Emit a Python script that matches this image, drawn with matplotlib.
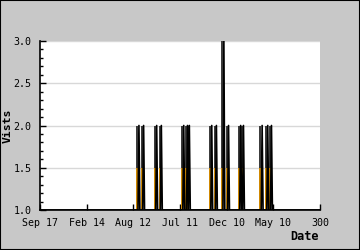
import numpy as np
from matplotlib import pyplot as plt

# data
# =======================
tick_pos = [0, 50, 100, 150, 200, 250, 300]
tick_labels = ['Sep 17', 'Feb 14', 'Aug 12', 'Jul 11', 'Dec 10', 'May 10', '300']
spike_days = [106, 111, 125, 130, 154, 158, 160, 184, 189, 197, 202, 215, 218, 238, 244, 248]
spike_visits = [2, 2, 2, 2, 2, 2, 2, 2, 2, 3, 2, 2, 2, 2, 2, 2]

days = np.arange(0, 301)
visits = np.ones(len(days))
for d, v in zip(spike_days, spike_visits):
    visits[d] = v

#%% plot

fig = plt.figure(figsize=(3.6, 2.5), dpi=100, facecolor='#c8c8c8')
ax = fig.add_axes([40/360, 40/250, 280/360, 169/250])
ax.set_facecolor('white')

# shaded column just left of each spike line: orange below 1.5, dark above
sd = np.array(spike_days) - 3.0
sv = np.array(spike_visits, dtype=float)
ax.bar(sd, np.minimum(sv, 1.5) - 1, bottom=1, width=2.3, align='edge',
       color='#d08800', lw=0)
ax.bar(sd, sv - 1.5, bottom=1.5, width=2.3, align='edge', color='#3c3c3c', lw=0)
ax.plot(days, visits, color='black', lw=1.2)

ax.set_xlim(0, 300)
ax.set_ylim(1.0, 3.0)
ax.set_xticks(tick_pos)
ax.set_xticklabels(tick_labels)
ax.set_yticks([1.0, 1.5, 2.0, 2.5, 3.0])
ax.set_yticks(np.arange(1.0, 3.01, 0.1), minor=True)
ax.yaxis.grid(True, color='#d8d8d8', lw=1)
ax.set_axisbelow(True)

for s in ['top', 'right']:
    ax.spines[s].set_visible(False)
ax.spines['left'].set_linewidth(1.2)
ax.spines['bottom'].set_linewidth(1.2)

ax.tick_params(axis='both', direction='in', length=4, width=1, pad=6)
ax.tick_params(axis='y', which='minor', direction='in', length=2.5, width=1)
ax.tick_params(axis='x', which='minor', length=0)
for lbl in ax.get_xticklabels() + ax.get_yticklabels():
    lbl.set_fontfamily('DejaVu Sans Mono')
    lbl.set_fontsize(7.2)

fig.text(8/360, 1 - 126/250, 'Vists', rotation=90, ha='center', va='center',
         fontweight='bold', family='DejaVu Sans Mono', size=8.2)
fig.text(319/360, 1 - 236/250, 'Date', ha='right', va='center',
         fontweight='bold', family='DejaVu Sans Mono', size=8.6)

# black frame round the whole picture
fig.patches.append(plt.Rectangle((0, 0), 1, 1, transform=fig.transFigure,
                                 fill=False, edgecolor='black', lw=1.5))

plt.savefig('out.png', dpi=100, facecolor=fig.get_facecolor())
